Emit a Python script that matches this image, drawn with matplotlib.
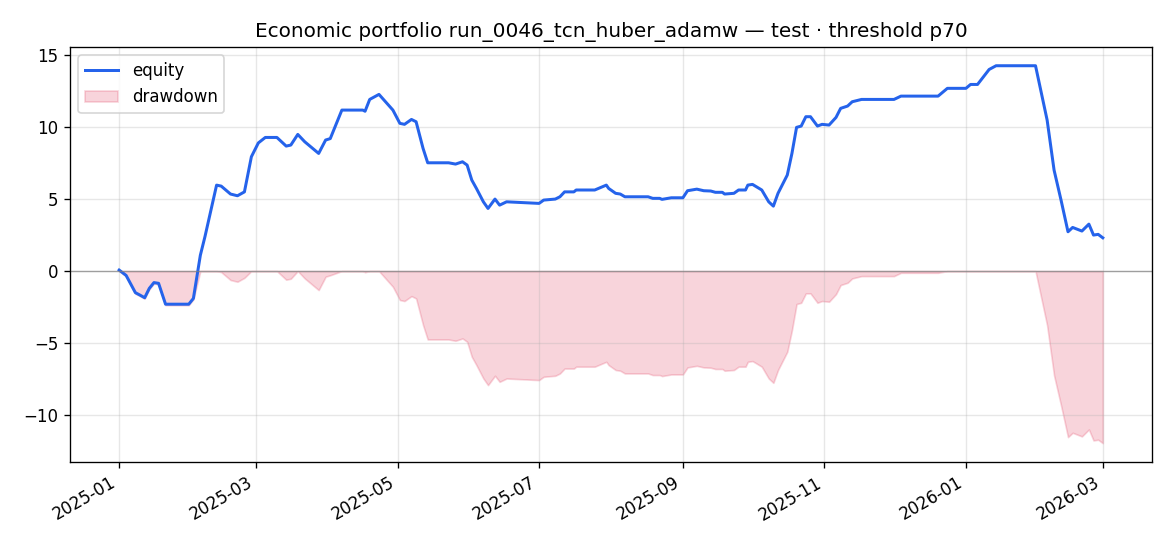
#!/usr/bin/env python3
import numpy as np
import pandas as pd
import matplotlib
matplotlib.use("Agg")
import matplotlib.pyplot as plt
import matplotlib.dates as mdates


TITLE = "Economic portfolio run_0046_tcn_huber_adamw \u2014 test \u00b7 threshold p70"

DATES = [
    "2025-01-01", "2025-01-04", "2025-01-08", "2025-01-10", "2025-01-12", "2025-01-14",
    "2025-01-16", "2025-01-18", "2025-01-21", "2025-01-31", "2025-02-02", "2025-02-05",
    "2025-02-07", "2025-02-12", "2025-02-14", "2025-02-18", "2025-02-21", "2025-02-24",
    "2025-02-27", "2025-03-02", "2025-03-05", "2025-03-10", "2025-03-14", "2025-03-16",
    "2025-03-19", "2025-03-22", "2025-03-28", "2025-03-31", "2025-04-02", "2025-04-07",
    "2025-04-16", "2025-04-17", "2025-04-19", "2025-04-23", "2025-04-29", "2025-05-02",
    "2025-05-04", "2025-05-07", "2025-05-09", "2025-05-12", "2025-05-14", "2025-05-23",
    "2025-05-26", "2025-05-29", "2025-05-31", "2025-06-02", "2025-06-04", "2025-06-07",
    "2025-06-09", "2025-06-12", "2025-06-14", "2025-06-17", "2025-07-01", "2025-07-03",
    "2025-07-08", "2025-07-10", "2025-07-12", "2025-07-16", "2025-07-17", "2025-07-25",
    "2025-07-30", "2025-07-31", "2025-08-03", "2025-08-05", "2025-08-07", "2025-08-17",
    "2025-08-19", "2025-08-22", "2025-08-23", "2025-08-27", "2025-09-01", "2025-09-03",
    "2025-09-07", "2025-09-10", "2025-09-13", "2025-09-15", "2025-09-18", "2025-09-19",
    "2025-09-23", "2025-09-25", "2025-09-28", "2025-09-29", "2025-10-01", "2025-10-05",
    "2025-10-08", "2025-10-10", "2025-10-12", "2025-10-16", "2025-10-18", "2025-10-20",
    "2025-10-22", "2025-10-24", "2025-10-26", "2025-10-29", "2025-10-31", "2025-11-03",
    "2025-11-06", "2025-11-08", "2025-11-11", "2025-11-13", "2025-11-17", "2025-12-01",
    "2025-12-04", "2025-12-20", "2025-12-24", "2026-01-01", "2026-01-03", "2026-01-06",
    "2026-01-11", "2026-01-14", "2026-01-31", "2026-02-05", "2026-02-08", "2026-02-11",
    "2026-02-14", "2026-02-16", "2026-02-20", "2026-02-23", "2026-02-25", "2026-02-27",
    "2026-03-01",
]

EQUITY = [
    0.07, -0.30, -1.50, -1.67, -1.85, -1.20,
    -0.80, -0.85, -2.30, -2.30, -1.90, 1.10,
    2.40, 5.97, 5.90, 5.35, 5.23, 5.50,
    7.94, 8.90, 9.28, 9.28, 8.68, 8.75,
    9.49, 8.98, 8.17, 9.10, 9.20, 11.18,
    11.18, 11.10, 11.92, 12.27, 11.18, 10.26,
    10.19, 10.53, 10.37, 8.52, 7.52, 7.52,
    7.43, 7.59, 7.36, 6.32, 5.74, 4.81,
    4.35, 5.00, 4.58, 4.81, 4.70, 4.93,
    5.00, 5.16, 5.50, 5.50, 5.63, 5.63,
    5.97, 5.74, 5.40, 5.35, 5.16, 5.16,
    5.05, 5.05, 4.98, 5.09, 5.09, 5.58,
    5.69, 5.58, 5.56, 5.47, 5.47, 5.35,
    5.40, 5.63, 5.63, 5.97, 6.02, 5.63,
    4.81, 4.51, 5.40, 6.67, 8.17, 9.98,
    10.07, 10.72, 10.72, 10.07, 10.19, 10.14,
    10.67, 11.30, 11.46, 11.76, 11.92, 11.92,
    12.15, 12.15, 12.69, 12.69, 12.96, 12.96,
    14.00, 14.26, 14.26, 10.49, 7.01, 4.93,
    2.73, 3.03, 2.78, 3.26, 2.50, 2.55,
    2.31,
]


def main():
    dates = pd.to_datetime(DATES)
    equity = np.array(EQUITY)
    drawdown = equity - np.maximum.accumulate(equity)

    fig, ax = plt.subplots(figsize=(9.75, 4.55), dpi=120)
    fig.subplots_adjust(left=0.0598, right=0.9846, top=0.9139, bottom=0.1538)

    ax.plot(dates, equity, color="#2563eb", lw=1.8, label="equity")
    ax.fill_between(dates, drawdown, 0, color="crimson", alpha=0.18, label="drawdown")
    ax.axhline(0, color="grey", lw=0.8, alpha=0.7)

    ax.set_title(TITLE)
    ax.grid(True, alpha=0.3)
    ax.legend(loc="upper left")
    ax.set_ylim(-13.26, 15.56)

    ax.xaxis.set_major_locator(mdates.MonthLocator(bymonth=[1, 3, 5, 7, 9, 11]))
    ax.xaxis.set_major_formatter(mdates.DateFormatter("%Y-%m"))
    for lbl in ax.get_xticklabels():
        lbl.set_rotation(30)
        lbl.set_ha("right")

    fig.savefig("out.png", dpi=120)


if __name__ == '__main__':
    main()
